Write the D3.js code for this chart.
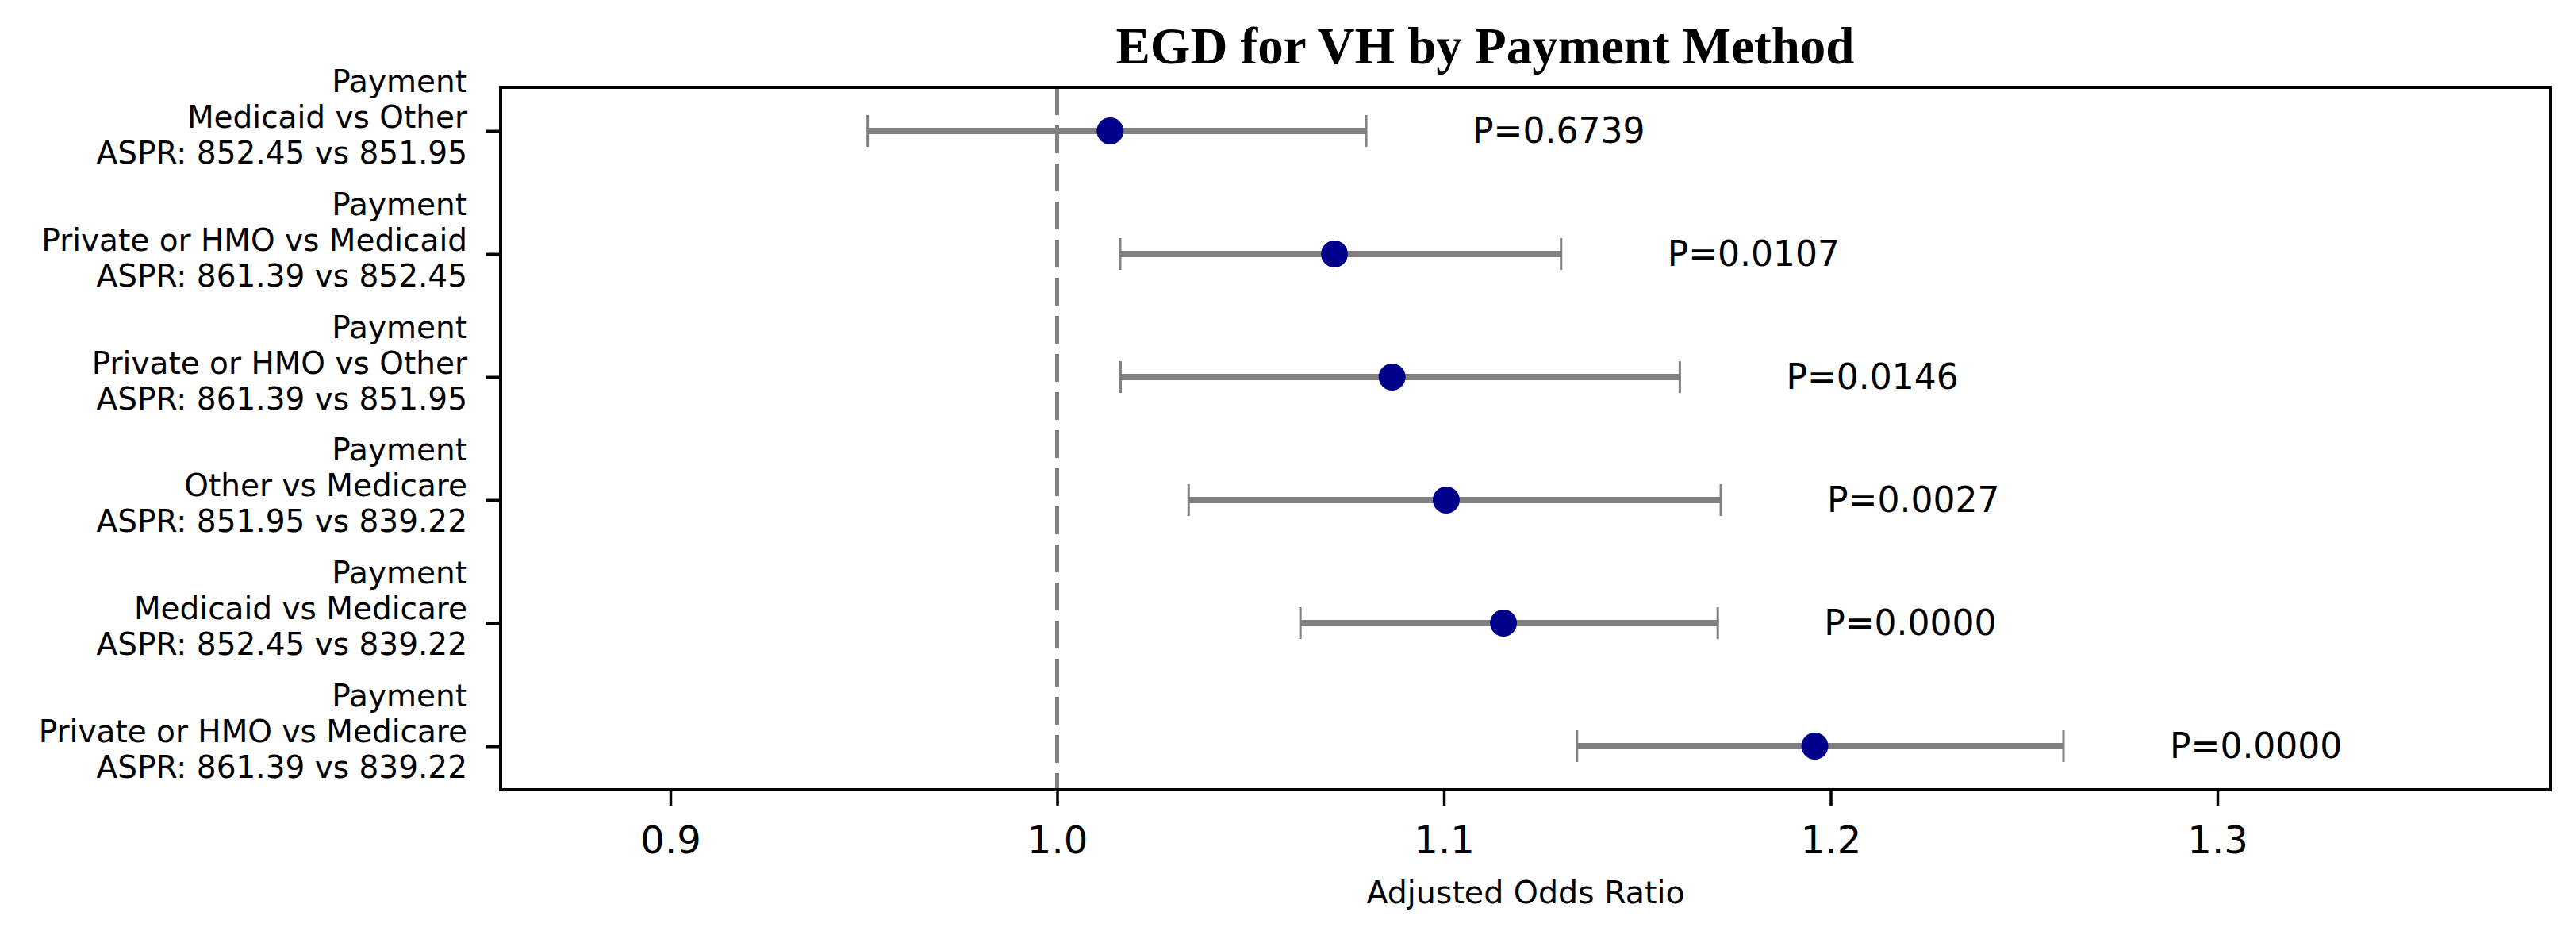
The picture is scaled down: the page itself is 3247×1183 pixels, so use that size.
<!DOCTYPE html>
<html>
<head>
<meta charset="utf-8">
<script src="https://cdn.jsdelivr.net/npm/d3@7"></script>
<style>
  html, body { margin: 0; padding: 0; background: #fff; }
  svg { display: block; }
</style>
</head>
<body>
<svg id="chart" width="3247" height="1183"></svg>
<script>
// ---- data ----
const groups = ["Payment", "Payment", "Payment", "Payment", "Payment", "Payment"];
const comparisons = [
  "Medicaid vs Other",
  "Private or HMO vs Medicaid",
  "Private or HMO vs Other",
  "Other vs Medicare",
  "Medicaid vs Medicare",
  "Private or HMO vs Medicare"
];
const asprs = [
  "ASPR: 852.45 vs 851.95",
  "ASPR: 861.39 vs 852.45",
  "ASPR: 861.39 vs 851.95",
  "ASPR: 851.95 vs 839.22",
  "ASPR: 852.45 vs 839.22",
  "ASPR: 861.39 vs 839.22"
];
const oddsRatio = [1.0137, 1.0717, 1.0866, 1.1006, 1.1154, 1.1959];
const ciLower   = [0.951, 1.0163, 1.0164, 1.0340, 1.0629, 1.1344];
const ciUpper   = [1.0799, 1.1303, 1.1610, 1.1716, 1.1708, 1.2602];
const pValues   = ["P=0.6739", "P=0.0107", "P=0.0146", "P=0.0027", "P=0.0000", "P=0.0000"];
const xTicks    = [0.9, 1.0, 1.1, 1.2, 1.3];
const refLine   = 1.0;
const titleText = "EGD for VH by Payment Method";
const xLabel    = "Adjusted Odds Ratio";

// ---- layout ----
const plot = { left: 631, right: 3215, top: 110, bottom: 995 };
const svg = d3.select("#chart");

const x = d3.scaleLinear().domain([0.8561, 1.38615]).range([plot.left, plot.right]);
const y = d3.scaleLinear().domain([-0.355, oddsRatio.length - 1 + 0.355]).range([plot.top, plot.bottom]);

const rows = oddsRatio.map((v, i) => ({
  i, or: v, lo: ciLower[i], hi: ciUpper[i], p: pValues[i],
  lines: [groups[i], comparisons[i], asprs[i]]
}));

const gray = "#808080";
const dotColor = "#00008b";
const sans = "DejaVu Sans, sans-serif";

// reference dashed line
svg.append("line")
  .attr("x1", x(refLine)).attr("x2", x(refLine))
  .attr("y1", plot.top).attr("y2", plot.bottom)
  .attr("stroke", gray).attr("stroke-width", 5)
  .attr("stroke-dasharray", "35,13");

// error bars
const g = svg.append("g");
g.selectAll("line.bar").data(rows).join("line")
  .attr("class", "bar")
  .attr("x1", d => x(d.lo)).attr("x2", d => x(d.hi))
  .attr("y1", d => y(d.i)).attr("y2", d => y(d.i))
  .attr("stroke", gray).attr("stroke-width", 8);
g.selectAll("line.capL").data(rows).join("line")
  .attr("class", "capL")
  .attr("x1", d => x(d.lo)).attr("x2", d => x(d.lo))
  .attr("y1", d => y(d.i) - 20).attr("y2", d => y(d.i) + 20)
  .attr("stroke", gray).attr("stroke-width", 3);
g.selectAll("line.capR").data(rows).join("line")
  .attr("class", "capR")
  .attr("x1", d => x(d.hi)).attr("x2", d => x(d.hi))
  .attr("y1", d => y(d.i) - 20).attr("y2", d => y(d.i) + 20)
  .attr("stroke", gray).attr("stroke-width", 3);
g.selectAll("circle").data(rows).join("circle")
  .attr("cx", d => x(d.or)).attr("cy", d => y(d.i)).attr("r", 17)
  .attr("fill", dotColor);

// p-value labels
g.selectAll("text.pval").data(rows).join("text")
  .attr("class", "pval")
  .attr("x", d => x(d.hi) + 134)
  .attr("y", d => y(d.i) + 15)
  .attr("font-family", sans).attr("font-size", 44)
  .attr("fill", "#000")
  .text(d => d.p);

// x axis
const xAxis = svg.append("g")
  .attr("transform", `translate(0,${plot.bottom})`)
  .call(d3.axisBottom(x).tickValues(xTicks).tickFormat(d3.format(".1f")).tickSize(20));
xAxis.select(".domain").remove();
xAxis.selectAll(".tick line").attr("stroke", "#000").attr("stroke-width", 3.5);
xAxis.selectAll(".tick text")
  .attr("y", 80).attr("dy", null)
  .attr("font-family", sans).attr("font-size", 48).attr("fill", "#000");

// y axis
const yAxis = svg.append("g")
  .attr("transform", `translate(${plot.left},0)`)
  .call(d3.axisLeft(y).tickValues(rows.map(d => d.i)).tickSize(19).tickPadding(23).tickFormat(""));
yAxis.select(".domain").remove();
yAxis.selectAll(".tick line").attr("stroke", "#000").attr("stroke-width", 4);
yAxis.selectAll(".tick text").each(function(d) {
  const t = d3.select(this).attr("dy", null)
    .attr("font-family", sans).attr("font-size", 39).attr("fill", "#000")
    .attr("text-anchor", "end");
  const offs = [-50, -5, 40];
  rows[d].lines.forEach((ln, k) => {
    t.append("tspan").attr("x", -42).attr("y", offs[k]).text(ln);
  });
});

// frame
svg.append("rect")
  .attr("x", plot.left).attr("y", plot.top)
  .attr("width", plot.right - plot.left).attr("height", plot.bottom - plot.top)
  .attr("fill", "none").attr("stroke", "#000").attr("stroke-width", 4);

// title
svg.append("text")
  .attr("x", 1872).attr("y", 80)
  .attr("text-anchor", "middle")
  .attr("font-family", "Liberation Serif, DejaVu Serif, serif")
  .attr("font-weight", "bold").attr("font-size", 65)
  .attr("fill", "#000")
  .text(titleText);

// x label
svg.append("text")
  .attr("x", (plot.left + plot.right) / 2).attr("y", 1138)
  .attr("text-anchor", "middle")
  .attr("font-family", sans).attr("font-size", 39.5)
  .attr("fill", "#000")
  .text(xLabel);
</script>
</body>
</html>
